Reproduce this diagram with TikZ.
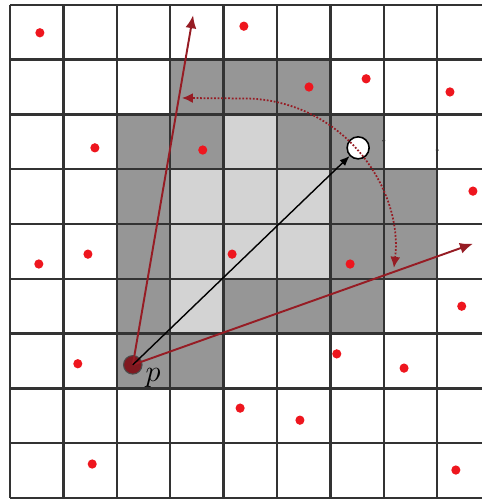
\documentclass[tikz,border=0pt]{standalone}
\usetikzlibrary{arrows.meta}
\definecolor{cellDark}{RGB}{150,150,150}
\definecolor{cellLight}{RGB}{211,211,211}
\definecolor{rayRed}{RGB}{150,28,36}
\definecolor{dotRed}{RGB}{238,22,30}
\begin{document}
\begin{tikzpicture}[x=1.068cm,y=1.096cm,
    ray/.style={rayRed,line width=1.1pt,-{Latex[length=0.26cm,width=0.22cm]}}]
    \useasboundingbox (-0.187,-0.055) rectangle (8.839,9.088);
    \clip (-0.187,-0.055) rectangle (8.839,9.088);
    \foreach \c/\r in {3/7,4/7,5/7,2/6,3/6,5/6,6/6,2/5,6/5,7/5,2/4,6/4,7/4,2/3,4/3,5/3,6/3,2/2,3/2}
      \fill[cellDark] (\c,\r) rectangle ++(1,1);
    \foreach \c/\r in {4/6,3/5,4/5,5/5,3/4,4/4,5/4,3/3}
      \fill[cellLight] (\c,\r) rectangle ++(1,1);
    \foreach \i in {0,...,9} {
      \draw[black!80,line width=1.3pt] (\i,0) -- (\i,9);
      \draw[black!80,line width=1.3pt] (0,\i) -- (9,\i);
    }
    \foreach \x/\y in {0.56/8.49,4.38/8.61,5.60/7.50,6.67/7.65,8.24/7.41,1.59/6.39,3.61/6.35,
        8.67/5.60,0.54/4.27,1.46/4.45,4.16/4.45,6.37/4.27,8.46/3.50,1.27/2.45,6.12/2.63,
        7.38/2.37,4.31/1.64,5.43/1.42,1.54/0.62,8.35/0.51}
      \fill[dotRed] (\x,\y) circle (0.085);
    \fill[black!80] (7.00,6.52) circle (0.03);
    \fill[black!80] (8.00,6.35) circle (0.03);
    \node[circle,fill=rayRed!85!black,draw=black!70,line width=0.6pt,inner sep=0pt,minimum size=0.37cm] (p) at (2.30,2.43) {};
    \node[font=\LARGE] (plabel) at (2.68,2.20) {$p$};
    \node[circle,fill=white,draw=black,line width=0.9pt,inner sep=0pt,minimum size=0.44cm] (q) at (6.52,6.39) {};
    \coordinate (top) at (3.43,8.81);
    \coordinate (right) at (8.67,4.64);
    \coordinate (a1) at (7.19,4.20);
    \coordinate (a2) at (3.22,7.30);
    \draw[ray] (p.center) -- (top);
    \draw[ray] (p.center) -- (right);
    \draw[black,line width=0.8pt,-{Latex[length=0.2cm,width=0.16cm]}] (p.center) -- (q);
    \draw[rayRed,line width=1pt,densely dotted,{Latex[length=0.22cm,width=0.2cm]}-{Latex[length=0.22cm,width=0.2cm]}]
      (a1) arc[start angle=-7,end angle=90,x radius=2.83,y radius=2.755] -- (a2);
  \end{tikzpicture}
\end{document}
